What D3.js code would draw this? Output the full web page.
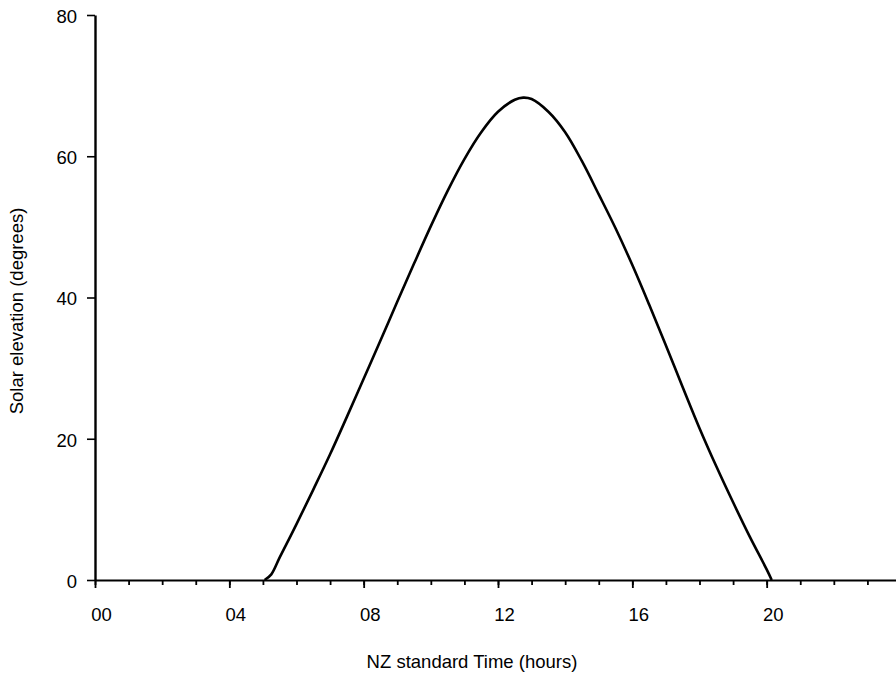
<!DOCTYPE html>
<html>
<head>
<meta charset="utf-8">
<script src="https://cdn.jsdelivr.net/npm/d3@7"></script>
<style>
  body { margin: 0; background: #fff; }
  svg { display: block; }
  text { font-family: "Liberation Sans", Arial, sans-serif; fill: #000; }
</style>
</head>
<body>
<svg id="chart" width="896" height="678"></svg>
<script>
// hours (NZ standard time) and solar elevation (degrees)
var hours = [5.05, 5.25, 5.5, 6.0, 6.5, 7.0, 7.5, 8.0, 8.5, 9.0, 9.5, 10.0, 10.5, 11.0, 11.5,
             12.0, 12.5, 12.75, 13.0, 13.5, 14.0, 14.5, 15.0, 15.5, 16.0, 16.5, 17.0, 17.5,
             18.0, 18.5, 19.0, 19.5, 20.0, 20.15];
var elevation = [0, 0.8, 3.2, 7.9, 12.8, 17.8, 23.1, 28.5, 33.9, 39.4, 44.8, 50.1, 55.1, 59.6, 63.4,
                 66.3, 68.0, 68.3, 68.1, 66.3, 63.4, 59.3, 54.6, 49.8, 44.6, 39.0, 33.2, 27.3,
                 21.5, 16.1, 11.0, 6.1, 1.5, 0];
var majorHours = [0, 4, 8, 12, 16, 20];
var yTicks = [0, 20, 40, 60, 80];

var svg = d3.select("#chart");

var x = d3.scaleLinear().domain([0, 24]).range([95, 901]);
var y = d3.scaleLinear().domain([0, 80]).range([580, 15]);

// minor hour ticks
svg.append("g")
    .attr("transform", "translate(0,580)")
    .call(d3.axisBottom(x).tickValues(d3.range(0, 24)).tickSize(5).tickFormat(""))
    .call(function(g) {
        g.select(".domain").remove();
        g.selectAll("line").attr("stroke", "#000").attr("stroke-width", 1.8);
    });

// major ticks + labels
var xAxis = svg.append("g")
    .attr("transform", "translate(0,580)")
    .call(d3.axisBottom(x).tickValues(majorHours).tickSize(8).tickSizeOuter(0).tickPadding(20)
        .tickFormat(d3.format("02d")));
xAxis.select(".domain").attr("stroke", "#000").attr("stroke-width", 2.2);
xAxis.selectAll("line").attr("stroke", "#000").attr("stroke-width", 1.8);
xAxis.selectAll("text")
    .attr("dx", 6)
    .style("font-size", "18.5px")
    .style("font-family", "'Liberation Sans', Arial, sans-serif");

var yAxis = svg.append("g")
    .attr("transform", "translate(95,0)")
    .call(d3.axisLeft(y).tickValues(yTicks).tickSize(8).tickSizeOuter(0).tickPadding(10));
yAxis.select(".domain").attr("stroke", "#000").attr("stroke-width", 2.4);
yAxis.selectAll("line").attr("stroke", "#000").attr("stroke-width", 1.6);
yAxis.selectAll("text")
    .attr("dy", "0.4em")
    .style("font-size", "18.5px")
    .style("font-family", "'Liberation Sans', Arial, sans-serif");

// the curve
var pts = hours.map(function(h, i) { return [h, elevation[i]]; });
var line = d3.line()
    .x(function(d) { return x(d[0]); })
    .y(function(d) { return y(d[1]); })
    .curve(d3.curveCatmullRom.alpha(0.5));

svg.append("path")
    .datum(pts)
    .attr("d", line)
    .attr("fill", "none")
    .attr("stroke", "#000")
    .attr("stroke-width", 2.6)
    .attr("stroke-linejoin", "round");

// axis titles
svg.append("text")
    .attr("x", 472)
    .attr("y", 668)
    .attr("text-anchor", "middle")
    .style("font-size", "18.5px")
    .text("NZ standard Time (hours)");

svg.append("text")
    .attr("transform", "translate(23,311) rotate(-90)")
    .attr("text-anchor", "middle")
    .style("font-size", "18.5px")
    .text("Solar elevation (degrees)");
</script>
</body>
</html>
